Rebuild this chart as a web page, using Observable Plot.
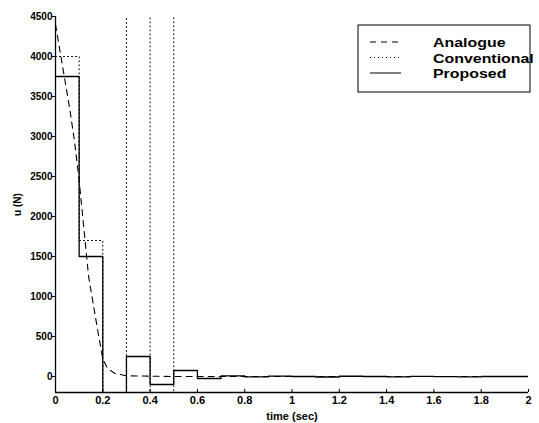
<!DOCTYPE html>
<html>
<head>
<meta charset="utf-8">
<script src="https://cdn.jsdelivr.net/npm/d3@7"></script>
<script src="https://cdn.jsdelivr.net/npm/@observablehq/plot@0.6"></script>
<style>
  html, body { margin: 0; padding: 0; background: #fff; }
  #chart svg { display: block; }
</style>
</head>
<body>
<div id="chart"></div>
<script>
// ---- data ----
const xDomain = [0, 2];
const yDomain = [-200, 4500];
const xTicks = [0, 0.2, 0.4, 0.6, 0.8, 1, 1.2, 1.4, 1.6, 1.8, 2];
const xTickLabels = ["0", "0.2", "0.4", "0.6", "0.8", "1", "1.2", "1.4", "1.6", "1.8", "2"];
const yTicks = [0, 500, 1000, 1500, 2000, 2500, 3000, 3500, 4000, 4500];
const yTickLabels = ["0", "500", "1000", "1500", "2000", "2500", "3000", "3500", "4000", "4500"];

const seriesNames = ["Analogue", "Conventional", "Proposed"];

// Analogue (continuous, dashed)
const analogueT = [0, 0.02, 0.04, 0.06, 0.08, 0.10, 0.12, 0.14, 0.16, 0.18, 0.20, 0.22, 0.25, 0.30, 0.5, 1.0, 2.0];
const analogueU = [4400, 4050, 3700, 3350, 2950, 2450, 1850, 1250, 900, 550, 220, 100, 40, 8, 0, 0, 0];

// Conventional (sampled, dotted) — unstable after 0.2 s, goes off-scale
const convT = [0, 0.1, 0.2, 0.3, 0.4, 0.5, 0.6];
const convU = [4000, 1700, -3000, 6000, -9000, 14000, 14000];

// Proposed (sampled, solid)
const propT = [0, 0.1, 0.2, 0.3, 0.4, 0.5, 0.6, 0.7, 0.8, 0.9, 1.0, 1.1, 1.2, 1.3, 1.4, 1.5, 1.6, 1.7, 1.8, 1.9, 2.0];
const propU = [3750, 1500, -400, 250, -100, 75, -25, 8, -5, 5, 0, -6, 3, 0, -4, 2, -2, -4, 0, 0, 0];

const analogue = analogueT.map((t, i) => ({t, u: analogueU[i]}));
const conventional = convT.map((t, i) => ({t, u: convU[i]}));
const proposed = propT.map((t, i) => ({t, u: propU[i]}));

const FONT = "'Liberation Sans', Arial, sans-serif";

function legendMark(index, scales, values, dims) {
  const g = d3.create("svg:g");
  const x0 = dims.width - 181, y0 = 25, w = 172, h = 67;
  g.append("rect").attr("x", x0).attr("y", y0).attr("width", w).attr("height", h)
    .attr("fill", "white").attr("stroke", "black").attr("stroke-width", 1);
  const styles = [
    {dash: "6,5"}, {dash: "1,3"}, {dash: null}
  ];
  seriesNames.forEach((name, i) => {
    const ly = y0 + 17 + i * 15.5;
    const line = g.append("line").attr("x1", x0 + 12).attr("x2", x0 + 43)
      .attr("y1", ly).attr("y2", ly).attr("stroke", "black").attr("stroke-width", 1);
    if (styles[i].dash) line.attr("stroke-dasharray", styles[i].dash);
    const tx = x0 + 75, ty = ly + 5;
    g.append("text")
      .attr("transform", `translate(${tx},${ty}) scale(1.18,1)`)
      .attr("text-anchor", "start")
      .attr("font-family", FONT).attr("font-weight", "bold").attr("font-size", 13.5)
      .attr("fill", "black").text(name);
  });
  return g.node();
}

const chart = Plot.plot({
  width: 539,
  height: 423,
  marginLeft: 55,
  marginRight: 11,
  marginTop: 16,
  marginBottom: 31,
  style: {fontFamily: FONT, fontSize: "11px", fontWeight: "bold", background: "white", color: "black"},
  x: {domain: xDomain},
  y: {domain: yDomain},
  marks: [
    Plot.line(analogue, {x: "t", y: "u", stroke: "black", strokeWidth: 1.1, strokeDasharray: "6,5", clip: true}),
    Plot.line(conventional, {x: "t", y: "u", curve: "step-after", stroke: "black", strokeWidth: 1, strokeDasharray: "1,3", clip: true}),
    Plot.line(proposed, {x: "t", y: "u", curve: "step-after", stroke: "black", strokeWidth: 1.3, clip: true}),
    Plot.ruleX([xDomain[0]], {stroke: "black", strokeWidth: 1.3}),
    Plot.ruleY([yDomain[0]], {stroke: "black", strokeWidth: 1.3}),
    Plot.axisX({ticks: xTicks, tickFormat: (d, i) => xTickLabels[i], tickSize: -3, tickPadding: 7,
      label: "time (sec)", labelAnchor: "center", labelArrow: "none", labelOffset: 27, fontSize: 11, fontWeight: "bold"}),
    Plot.axisY({ticks: yTicks, tickFormat: (d, i) => yTickLabels[i], tickSize: 3, tickPadding: 0,
      label: "u (N)", labelAnchor: "center", labelArrow: "none", labelOffset: 42, fontSize: 10, fontWeight: "bold"}),
    legendMark
  ]
});
document.getElementById("chart").appendChild(chart);
</script>
</body>
</html>
